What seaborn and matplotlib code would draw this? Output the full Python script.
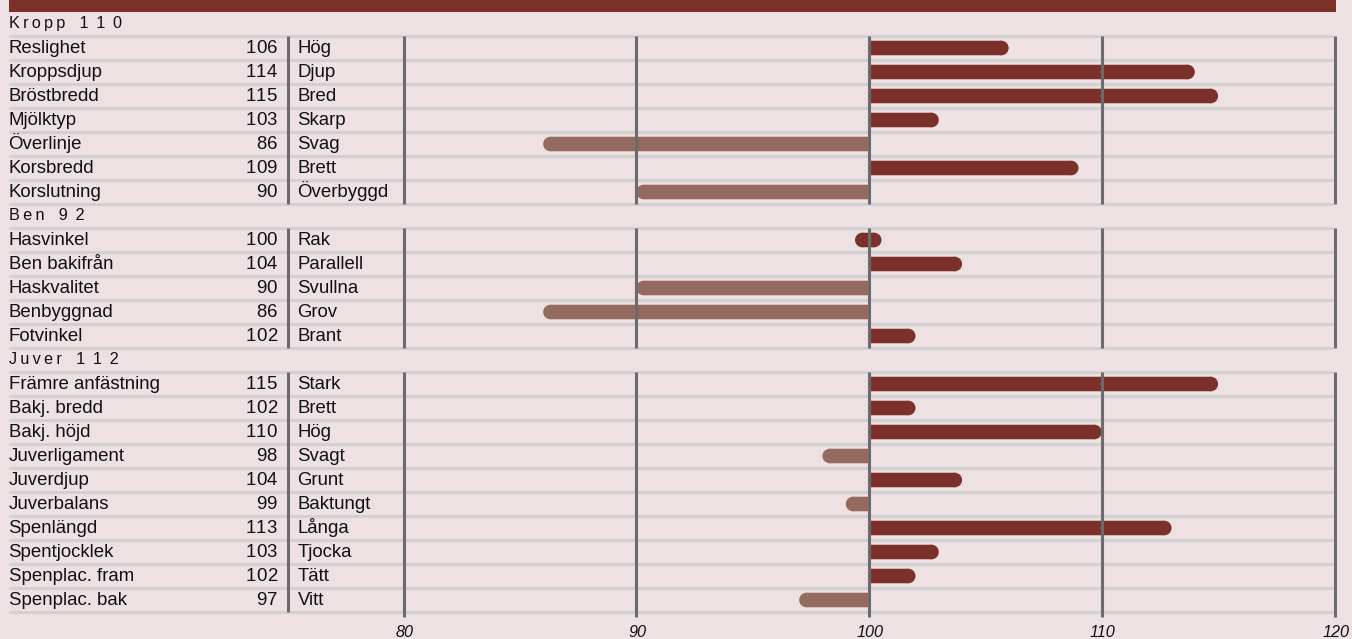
import numpy as np
import pandas as pd
import matplotlib
matplotlib.use("Agg")
import matplotlib.pyplot as plt
from matplotlib.patches import Ellipse, Rectangle
import seaborn as sns

# --- data ---
group_names = ["Kropp", "Ben", "Juver"]
group_scores = [110, 92, 112]

kropp_traits = ["Reslighet", "Kroppsdjup", "Bröstbredd", "Mjölktyp", "Överlinje", "Korsbredd", "Korslutning"]
kropp_values = [106, 114, 115, 103, 86, 109, 90]
kropp_answers = ["Hög", "Djup", "Bred", "Skarp", "Svag", "Brett", "Överbyggd"]

ben_traits = ["Hasvinkel", "Ben bakifrån", "Haskvalitet", "Benbyggnad", "Fotvinkel"]
ben_values = [100, 104, 90, 86, 102]
ben_answers = ["Rak", "Parallell", "Svullna", "Grov", "Brant"]

juver_traits = ["Främre anfästning", "Bakj. bredd", "Bakj. höjd", "Juverligament", "Juverdjup",
                "Juverbalans", "Spenlängd", "Spentjocklek", "Spenplac. fram", "Spenplac. bak"]
juver_values = [115, 102, 110, 98, 104, 99, 113, 103, 102, 97]
juver_answers = ["Stark", "Brett", "Hög", "Svagt", "Grunt", "Baktungt", "Långa", "Tjocka", "Tätt", "Vitt"]

tick_values = [80, 90, 100, 110, 120]
BASE = 100

# --- style ---
BG = "#ede1e3"
DARK = "#7b3129"
LIGHT = "#956a5f"
GRID = "#d3d0d0"
VLINE = "#6b6b6b"
TXT = "#111111"

PX = 23.275            # pixels per index point
BAR_PX = 14.5
BAR_H = BAR_PX / 24    # bar height in row units
R = BAR_PX / 2 / PX    # cap radius in data units
FS = 13.4              # body text size
EM = FS * 100 / 72 / PX          # one em in data units
DIGIT = 0.556 * EM               # digit advance
BASELINE = 0.22        # text baseline below row centre (rows)

sns.set_theme(style="white")
plt.rcParams["font.family"] = ["Liberation Sans", "DejaVu Sans"]


def build_rows():
    rows = []
    groups = [
        (kropp_traits, kropp_values, kropp_answers),
        (ben_traits, ben_values, ben_answers),
        (juver_traits, juver_values, juver_answers),
    ]
    for gi, (name, score) in enumerate(zip(group_names, group_scores)):
        rows.append(dict(kind="header", group=gi, name=name, value=score, answer=""))
        traits, values, answers = groups[gi]
        for t, v, a in zip(traits, values, answers):
            rows.append(dict(kind="trait", group=gi, name=t, value=v, answer=a))
    df = pd.DataFrame(rows)
    df["pos"] = np.arange(len(df), dtype=float)
    return df


def px(x):
    # pixel column -> data x (deviation from BASE)
    return (x - 869) / PX


def cap(ax, x, y, color):
    ax.add_patch(Ellipse((x, y), 2 * R, BAR_H, facecolor=color, lw=0, zorder=2))


df = build_rows()

fig = plt.figure(figsize=(13.52, 6.39), dpi=100)
fig.patch.set_facecolor(BG)
ax = fig.add_axes([0, 0, 1, 1])

traits = df[df["kind"] == "trait"].copy()
traits["dev"] = traits["value"] - BASE
traits["side"] = np.where(traits["dev"] < 0, "neg", "pos")
traits["body"] = traits["dev"] - np.sign(traits["dev"]) * R

bars = traits[traits["dev"] != 0]
palette = {"pos": DARK, "neg": LIGHT}
sns.barplot(data=bars, x="body", y="pos", hue="side", orient="y", native_scale=True,
            palette=palette, width=0.6, dodge=False,
            linewidth=0, saturation=1, legend=False, ax=ax, zorder=2)
# exact bar thickness, no pixel snapping so the caps line up
for p in list(ax.patches):
    c = p.get_y() + p.get_height() / 2
    p.set_y(c - BAR_H / 2)
    p.set_height(BAR_H)
    p.set_snap(False)
# rounded ends
for _, r in bars.iterrows():
    cap(ax, r["body"], r["pos"], palette[r["side"]])
zero = traits[traits["dev"] == 0]
for _, r in zero.iterrows():
    lo, hi = px(855) + R, px(881.5) - R
    ax.add_patch(Rectangle((lo, r["pos"] - BAR_H / 2), hi - lo, BAR_H,
                           facecolor=DARK, lw=0, zorder=2, snap=False))
    cap(ax, lo, r["pos"], DARK)
    cap(ax, hi, r["pos"], DARK)

x_left = px(9)
x_right = px(1336)
divider = px(288)

# top band
ax.fill_between([x_left, x_right], -1, -0.5, color=DARK, lw=0, zorder=1)

# row separators
for p in df["pos"]:
    ax.plot([x_left, px(1333)], [p + 0.5, p + 0.5], color=GRID, lw=2.2, zorder=1,
            solid_capstyle="butt")

# vertical lines per group
for gi in range(len(group_names)):
    sub = df[(df["group"] == gi) & (df["kind"] == "trait")]
    y0 = sub["pos"].min() - 0.5
    y1 = sub["pos"].max() + 0.5
    ext = 0.22 if gi == len(group_names) - 1 else 0
    ax.plot([divider, divider], [y0, y1], color=VLINE, lw=2.2, zorder=3, solid_capstyle="butt")
    for t in tick_values:
        ax.plot([t - BASE, t - BASE], [y0, y1 + ext], color=VLINE, lw=2.2, zorder=3,
                solid_capstyle="butt")

# texts
label_x = px(8.5)
value_x = px(271.8)   # centre of last digit
answer_x = px(297.5)
for _, r in df.iterrows():
    if r["kind"] == "header":
        spaced = "\u2009".join(r["name"]) + "\u2009\u2009 \u2009" + " \u2009".join(str(r["value"]))
        ax.text(label_x, r["pos"] + 0.18, spaced, fontsize=11.7, color=TXT,
                va="baseline", ha="left", zorder=4)
    else:
        yb = r["pos"] + BASELINE
        ax.text(label_x, yb, r["name"], fontsize=FS, color=TXT,
                va="baseline", ha="left", zorder=4)
        # digits placed one by one (tabular, no kerning)
        digits = str(r["value"])
        for k, ch in enumerate(reversed(digits)):
            shift = -0.035 * EM if ch == "1" else 0
            ax.text(value_x - k * DIGIT + shift, yb, ch, fontsize=FS, color=TXT,
                    va="baseline", ha="center", zorder=4)
        ax.text(answer_x, yb, r["answer"], fontsize=FS, color=TXT,
                va="baseline", ha="left", zorder=4)

for t in tick_values:
    ax.text(t - BASE + 1.2 / PX, 25.56, str(t), fontsize=11.7, style="italic", color=TXT,
            ha="center", va="baseline")

ax.set_xlim(px(0), px(1352))
ax.set_ylim((639 - 24) / 24, -1)
ax.set_axis_off()

fig.savefig("out.png", dpi=100, facecolor=BG)
